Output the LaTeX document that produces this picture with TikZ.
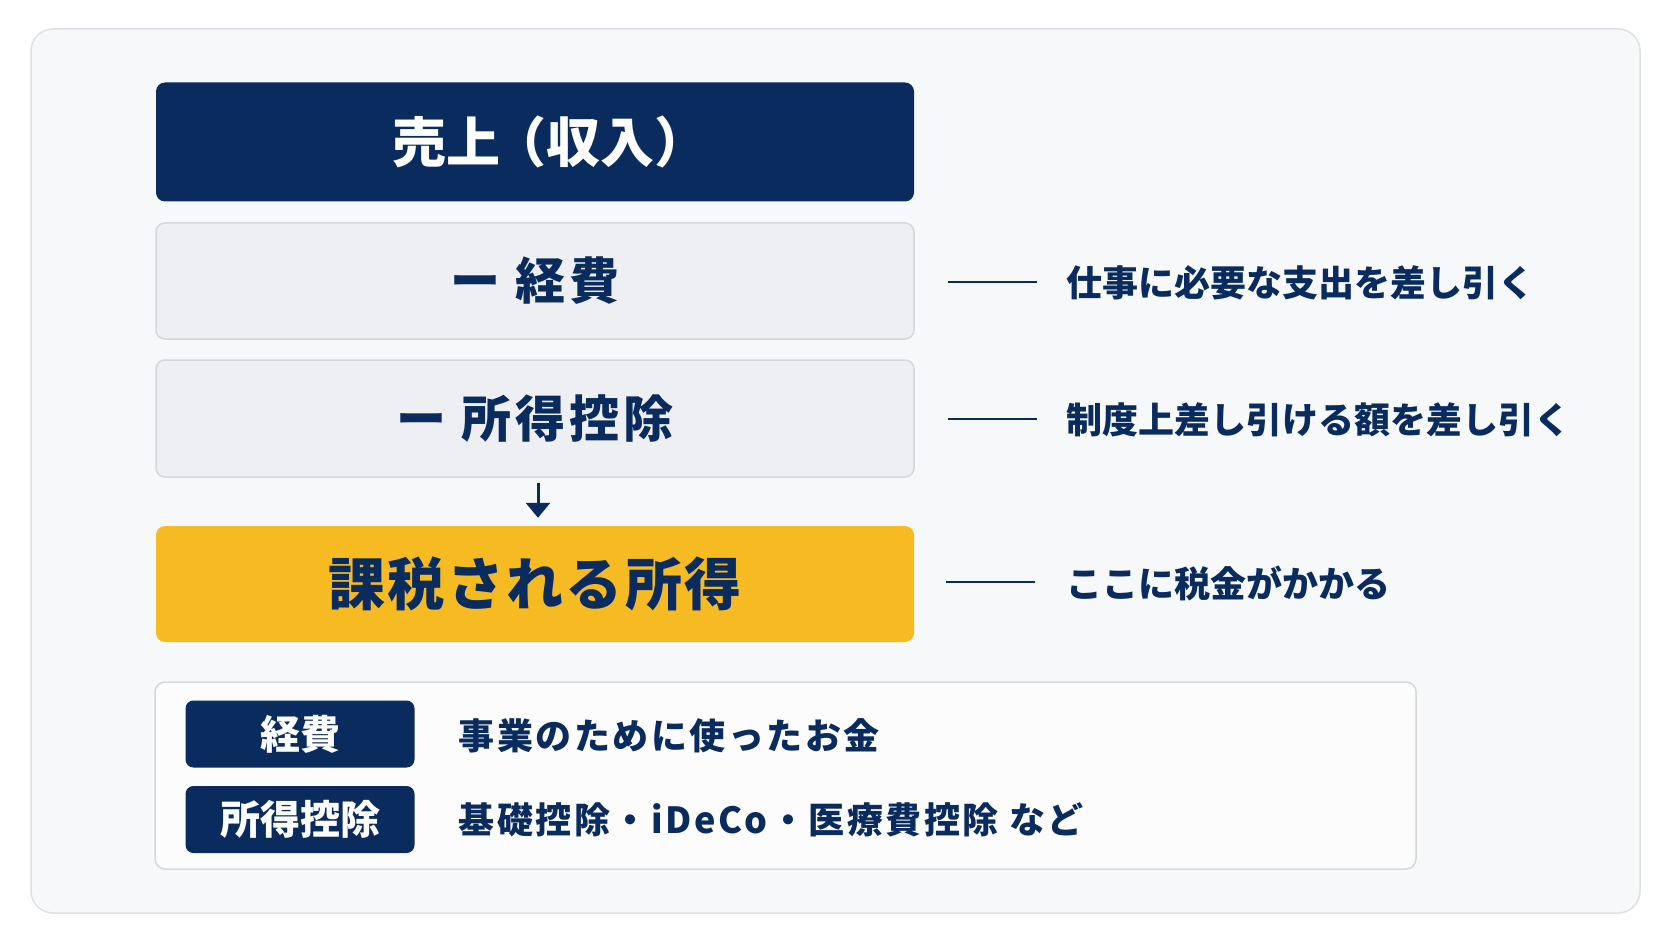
\documentclass[tikz,border=0pt]{standalone}
\usepackage{fontspec}
\setmainfont{Noto Sans CJK JP}
\usetikzlibrary{arrows.meta}
\definecolor{navy}{HTML}{0A2B5E}
\definecolor{gold}{HTML}{F6BB22}
\definecolor{lightbox}{HTML}{EEEFF2}
\definecolor{lightborder}{HTML}{D4D7DC}
\definecolor{panelfill}{HTML}{F7F8FA}
\definecolor{panelborder}{HTML}{DDE0E4}
\newcommand\myfs[1]{\fontsize{#1}{#1}\selectfont}
\tikzset{
  bigbox/.style={minimum width=758pt, rounded corners=9pt, inner sep=0pt, font=\bfseries},
  navybox/.style={bigbox, fill=navy, text=white},
  greybox/.style={bigbox, fill=lightbox, draw=lightborder, line width=1.5pt, text=navy},
  goldbox/.style={bigbox, fill=gold, text=navy},
  tagbox/.style={fill=navy, text=white, rounded corners=8pt, minimum width=229pt, minimum height=67pt, inner sep=0pt, font=\bfseries\myfs{40}},
  lbl/.style={anchor=west, text=navy, inner sep=0pt, font=\bfseries\myfs{36}},
  desc/.style={anchor=west, text=navy, inner sep=0pt, font=\bfseries\myfs{36}\addfontfeature{LetterSpace=7}},
  leader/.style={draw=navy, line width=2pt},
}
\begin{document}
\begin{tikzpicture}[x=1pt,y=-1pt]
\useasboundingbox (0,0) rectangle (1672,941);
\fill[white] (0,0) rectangle (1672,941);
\draw[fill=panelfill, draw=panelborder, line width=1.5pt, rounded corners=22pt] (31,29) rectangle (1640,913);

\node[navybox, minimum height=119pt] (sales) at (535,142) {\myfs{54}\hspace*{30pt}売上\hspace{-8pt}（収入）};
\node[greybox, minimum height=116pt] (exp) at (535,281) {\myfs{50}\addfontfeature{LetterSpace=8}ー 経費};
\node[greybox, minimum height=117pt] (ded) at (535,418.5) {\myfs{50}\addfontfeature{LetterSpace=8}ー 所得控除};
\node[goldbox, minimum height=116pt] (tax) at (535,584) {\myfs{57}\addfontfeature{LetterSpace=4}課税される所得};

\draw[navy, line width=3pt, -{Triangle[width=24pt,length=15pt]}] (ded.south) ++(3,5) -- ([xshift=3pt,yshift=8pt]tax.north);

\coordinate (l1a) at (948,281.5); \coordinate (l1b) at (1037,281.5);
\coordinate (l2a) at (948,419); \coordinate (l2b) at (1037,419);
\coordinate (l3a) at (946,582); \coordinate (l3b) at (1035,582);
\draw[leader] (l1a) -- (l1b);
\draw[leader] (l2a) -- (l2b);
\draw[leader] (l3a) -- (l3b);
\node[lbl] (t1) at (1066,283) {仕事に必要な支出を差し引く};
\node[lbl] (t2) at (1066,420) {制度上差し引ける額を差し引く};
\node[lbl] (t3) at (1066,583) {ここに税金がかかる};

\draw[fill=white!60!panelfill, draw=lightborder, line width=1.5pt, rounded corners=10pt] (155,682) rectangle (1416,869);
\node[tagbox] (tag1) at (300,734) {経費};
\node[tagbox] (tag2) at (300,819.5) {所得控除};
\node[desc] (d1) at (458.5,736) {事業のために使ったお金};
\node[desc] (d2) at (458.5,820) {基礎控除・iDeCo・医療費控除 など};
\end{tikzpicture}
\end{document}
